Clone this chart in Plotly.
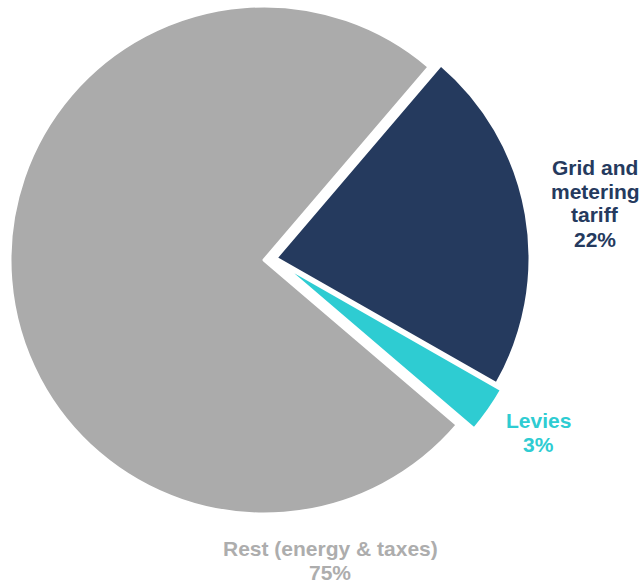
import plotly.graph_objects as go

# Share of the electricity bill
categories = ["Grid and\nmetering\ntariff", "Levies", "Rest (energy & taxes)"]
shares = [22, 3, 75]
slice_colors = ["#253A5E", "#2ECCD2", "#ABABAB"]
label_colors = ["#253A5E", "#2ECCD2", "#ADADAD"]

W, H = 641, 584
CX, CY, R = 264, 260, 254          # pie centre and radius in pixels
ROTATION = 40.5                    # start angle of the first slice (deg, clockwise from 12 o'clock)
# pixel offset of each exploded slice from the pie centre
explode = [(12, -2), (17, 4), (0, 0)]
# label block centres (pixels) and line spacing
label_pos = [(595, 203), (538, 432), (330, 560)]
LINE_H = 24
FONT = "Liberation Sans, Arial, sans-serif"

fig = go.Figure()

# one trace per visible slice so each can be offset independently
for i, (dx, dy) in enumerate(explode):
    cols = ["rgba(0,0,0,0)"] * len(shares)
    widths = [0] * len(shares)
    cols[i] = slice_colors[i]
    widths[i] = 3
    x0 = (CX + dx - R) / W
    x1 = (CX + dx + R) / W
    y0 = 1 - (CY + dy + R) / H
    y1 = 1 - (CY + dy - R) / H
    fig.add_trace(go.Pie(
        values=shares,
        labels=[c.replace("\n", " ") for c in categories],
        sort=False,
        direction="clockwise",
        rotation=ROTATION,
        marker=dict(colors=cols, line=dict(color="white", width=widths)),
        textinfo="none",
        hoverinfo="skip",
        showlegend=False,
        domain=dict(x=[x0, x1], y=[y0, y1]),
    ))

# outside labels: category name lines followed by the share
for name, val, col, (lx, ly) in zip(categories, shares, label_colors, label_pos):
    lines = name.split("\n") + [f"{val}%"]
    n = len(lines)
    for k, line in enumerate(lines):
        py = ly + (k - (n - 1) / 2) * LINE_H
        fig.add_annotation(
            x=lx / W, y=1 - py / H, xref="paper", yref="paper",
            text=f"<b>{line}</b>", showarrow=False,
            xanchor="center", yanchor="middle",
            font=dict(family=FONT, size=21, color=col),
        )

fig.update_layout(
    width=W, height=H,
    margin=dict(l=0, r=0, t=0, b=0),
    paper_bgcolor="white", plot_bgcolor="white",
)

fig.write_html("out.html")
